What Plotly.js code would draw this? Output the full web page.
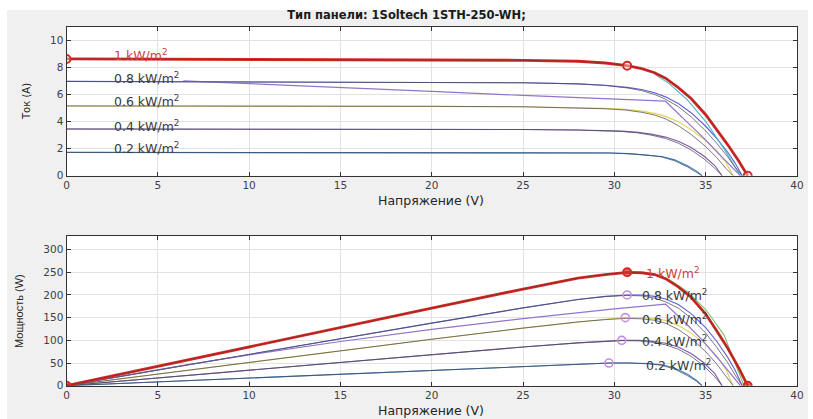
<!DOCTYPE html>
<html>
<head>
<meta charset="utf-8">
<script src="https://cdn.plot.ly/plotly-3.0.1.min.js"></script>
<style>
  html, body { margin: 0; padding: 0; background: #ffffff; }
  #chart { width: 813px; height: 419px; }
</style>
</head>
<body>
<div id="chart"></div>
<script>
// I-V and P-V characteristics of the 1Soltech 1STH-250-WH panel
// at five irradiance levels (calculated = coloured, measured = dark).

const irrLabels = ['1 kW/m<sup>2</sup>', '0.8 kW/m<sup>2</sup>', '0.6 kW/m<sup>2</sup>', '0.4 kW/m<sup>2</sup>', '0.2 kW/m<sup>2</sup>'];

// 1 kW/m2
const V10 = [0, 5, 10, 15, 20, 25, 28, 29.5, 30.7, 31.5, 32.2, 32.8, 33.5, 34.2, 35.0, 35.6, 36.2, 36.8, 37.3];
const I10 = [8.62, 8.61, 8.6, 8.58, 8.56, 8.52, 8.45, 8.32, 8.12, 7.9, 7.6, 7.2, 6.5, 5.7, 4.5, 3.4, 2.3, 1.1, 0];
const P10 = [0, 43, 86, 129, 171, 213, 237, 245, 250, 249, 245, 236, 218, 195, 158, 121, 83, 40, 0];
// model branch near the knee, 1 kW/m2
const V10k = [32.2, 33.0, 34.0, 35.0, 36.0, 36.9];
const I10k = [7.5, 6.8, 5.6, 4.0, 2.0, 0];
const V10kp = [32.2, 33.0, 34.0, 35.0, 36.0, 37.1];
const P10k = [247, 234, 207, 168, 112, 0];

// 0.8 kW/m2
const V08 = [0, 5, 10, 15, 20, 25, 28, 29.5, 30.7, 31.5, 32.2, 32.8, 33.5, 34.2, 35.0, 35.6, 36.2, 36.6, 37.0];
const I08c = [6.96, 6.95, 6.94, 6.92, 6.9, 6.86, 6.78, 6.68, 6.52, 6.36, 6.12, 5.82, 5.33, 4.65, 3.65, 2.75, 1.75, 0.95, 0];
const I08m = [6.96, 6.95, 6.94, 6.92, 6.9, 6.86, 6.78, 6.66, 6.48, 6.28, 6.0, 5.65, 5.1, 4.35, 3.3, 2.4, 1.4, 0.65, 0];
const P08c = [0, 34.8, 69.4, 103.8, 138, 171.5, 190, 197, 200, 200, 197, 191, 179, 159, 128, 98, 63, 35, 0];
const P08m = [0, 34.8, 69.4, 103.8, 138, 171.5, 190, 196.5, 199, 198, 193, 185, 171, 149, 116, 85, 51, 24, 0];

// 0.8 kW/m2, partially shaded string
const VA = [6.4, 10, 15, 20, 25, 30, 32.8, 33.8, 34.8, 35.8, 36.9];
const IA = [7.0, 6.78, 6.5, 6.22, 5.93, 5.65, 5.5, 4.2, 2.9, 1.5, 0];
const VAp = [0, 6.4, 10, 15, 20, 25, 30, 32.8, 33.8, 34.8, 35.8, 36.9];
const PA = [0, 44.8, 67.8, 97.5, 124, 148, 169.5, 180, 142, 101, 54, 0];

// 0.6 kW/m2
const V06 = [0, 5, 10, 15, 20, 25, 28, 29.5, 30.6, 31.5, 32.2, 32.8, 33.5, 34.2, 35.0, 35.6, 36.1, 36.5];
const I06c = [5.15, 5.15, 5.14, 5.13, 5.12, 5.09, 5.03, 4.97, 4.9, 4.77, 4.6, 4.38, 3.98, 3.4, 2.6, 1.85, 1.0, 0];
const I06m = [5.15, 5.15, 5.14, 5.13, 5.12, 5.09, 5.02, 4.94, 4.85, 4.68, 4.48, 4.2, 3.7, 3.05, 2.15, 1.35, 0.55, 0];
const P06c = [0, 25.8, 51.4, 77, 102.4, 127, 141, 146.6, 150, 150, 148, 144, 133, 116, 91, 66, 36, 0];
const P06m = [0, 25.8, 51.4, 77, 102.4, 127, 140.6, 145.7, 148.4, 147.4, 144.3, 137.8, 124, 104.3, 75, 48, 20, 0];

// 0.4 kW/m2
const V04 = [0, 5, 10, 15, 20, 25, 28, 29.5, 30.4, 31.3, 32.0, 32.8, 33.5, 34.2, 34.9, 35.5, 35.9];
const I04c = [3.45, 3.45, 3.45, 3.44, 3.43, 3.41, 3.37, 3.34, 3.29, 3.2, 3.07, 2.85, 2.55, 2.08, 1.45, 0.75, 0];
const I04m = [3.45, 3.45, 3.45, 3.44, 3.43, 3.41, 3.37, 3.33, 3.27, 3.16, 3.0, 2.75, 2.4, 1.9, 1.25, 0.55, 0];
const P04c = [0, 17.3, 34.5, 51.6, 68.6, 85.3, 94.4, 98.5, 100, 100.2, 98.2, 93.5, 85.4, 71.1, 50.6, 26.6, 0];
const P04m = [0, 17.3, 34.5, 51.6, 68.6, 85.3, 94.4, 98.2, 99.4, 98.9, 96, 90.2, 80.4, 65, 43.6, 19.5, 0];

// 0.2 kW/m2
const V02 = [0, 5, 10, 15, 20, 25, 28, 29.7, 30.8, 31.8, 32.6, 33.3, 34.0, 34.5, 34.8];
const I02c = [1.72, 1.72, 1.72, 1.72, 1.71, 1.71, 1.70, 1.68, 1.63, 1.54, 1.42, 1.17, 0.74, 0.34, 0];
const I02m = [1.72, 1.72, 1.72, 1.72, 1.71, 1.71, 1.70, 1.68, 1.62, 1.52, 1.38, 1.1, 0.65, 0.28, 0];
const P02c = [0, 8.6, 17.2, 25.8, 34.2, 42.8, 47.6, 49.9, 50.2, 49, 46.3, 39, 25.2, 11.7, 0];
const P02m = [0, 8.6, 17.2, 25.8, 34.2, 42.8, 47.6, 49.9, 49.9, 48.3, 45, 36.6, 22.1, 9.7, 0];

// characteristic points at 1 kW/m2: Isc, MPP, Voc
const keyV = [0, 30.7, 37.3];
const keyI = [8.62, 8.12, 0];
const keyP = [0, 250, 0];
// maximum power points at lower irradiance
const mppV = [30.7, 30.6, 30.4, 29.7];
const mppP = [200, 150, 100, 50];

// label anchor positions
const labelV_I = 2.5;
const labelI = [8.9, 7.2, 5.5, 3.7, 2.05];
const labelV_P = [31.6, 31.4, 31.4, 31.4, 31.6];
const labelP = [248, 199, 148, 99, 46];

const darkCol = '#4a4c5c';
const colors = {
  c10: '#d42a25', c10k: '#49b3c9', c10kp: '#7cc46c',
  c08: '#5f62d4', cA: '#9274cc', c06: '#e6cf52', c04: '#7f5aa8', c02: '#2f7cc4'
};

function line(x, y, color, width, axis, opacity) {
  return {
    x: x, y: y, type: 'scatter', mode: 'lines',
    line: { color: color, width: width },
    opacity: opacity === undefined ? 1 : opacity,
    xaxis: axis === 2 ? 'x2' : 'x', yaxis: axis === 2 ? 'y2' : 'y',
    hoverinfo: 'skip', showlegend: false
  };
}

const traces = [
  // ---- current vs voltage ----
  line(V02, I02c, colors.c02, 1.1, 1),
  line(V04, I04c, colors.c04, 1.1, 1),
  line(V06, I06c, colors.c06, 1.1, 1),
  line(V08, I08c, colors.c08, 1.1, 1),
  line(VA, IA, colors.cA, 1.2, 1),
  line(V10k, I10k, colors.c10k, 1.1, 1),
  line(V02, I02m, darkCol, 1, 1, 0.75),
  line(V04, I04m, darkCol, 1, 1, 0.75),
  line(V06, I06m, darkCol, 1, 1, 0.75),
  line(V08, I08m, darkCol, 1, 1, 0.75),
  line(V10, I10, colors.c10, 2.8, 1),
  line(V10, I10, '#5a2a2a', 0.8, 1, 0.6),
  // ---- power vs voltage ----
  line(V02, P02c, colors.c02, 1.1, 2),
  line(V04, P04c, colors.c04, 1.1, 2),
  line(V06, P06c, colors.c06, 1.1, 2),
  line(V08, P08c, colors.c08, 1.1, 2),
  line(VAp, PA, colors.cA, 1.2, 2),
  line(V10kp, P10k, colors.c10kp, 1.1, 2),
  line(V02, P02m, darkCol, 1, 2, 0.75),
  line(V04, P04m, darkCol, 1, 2, 0.75),
  line(V06, P06m, darkCol, 1, 2, 0.75),
  line(V08, P08m, darkCol, 1, 2, 0.75),
  line(V10, P10, colors.c10, 2.8, 2),
  line(V10, P10, '#5a2a2a', 0.8, 2, 0.6),
  // ---- markers ----
  {
    x: keyV, y: keyI, type: 'scatter', mode: 'markers', xaxis: 'x', yaxis: 'y',
    marker: { size: 8, color: 'rgba(255,255,255,0.4)', line: { color: '#d42a25', width: 2 } },
    hoverinfo: 'skip', showlegend: false
  },
  {
    x: keyV, y: keyP, type: 'scatter', mode: 'markers', xaxis: 'x2', yaxis: 'y2',
    marker: { size: 8, color: 'rgba(220,50,45,0.75)', line: { color: '#d42a25', width: 2 } },
    hoverinfo: 'skip', showlegend: false
  },
  {
    x: mppV, y: mppP, type: 'scatter', mode: 'markers', xaxis: 'x2', yaxis: 'y2',
    marker: { size: 8, color: 'rgba(255,255,255,0)', line: { color: '#c58ee0', width: 1.6 } },
    hoverinfo: 'skip', showlegend: false
  }
];

const font = 'DejaVu Sans, Verdana, sans-serif';
const narrow = 'Liberation Sans Narrow, Liberation Sans, Arial, sans-serif';
const annotations = [];
irrLabels.forEach(function (t, k) {
  annotations.push({
    xref: 'x', yref: 'y', x: labelV_I, y: labelI[k], text: t, showarrow: false,
    xanchor: 'left', yanchor: 'middle',
    font: { family: font, size: 12.5, color: k === 0 ? '#d0403a' : '#3a3a3a' }
  });
  annotations.push({
    xref: 'x2', yref: 'y2', x: labelV_P[k], y: labelP[k], text: t, showarrow: false,
    xanchor: 'left', yanchor: 'middle',
    font: { family: font, size: 12.5, color: k === 0 ? '#d0403a' : '#3a3a3a' }
  });
});
// axis titles
annotations.push(
  { xref: 'paper', yref: 'paper', x: 0.53, y: 1 - 200.5 / 419, text: 'Напряжение (V)', showarrow: false,
    xanchor: 'center', yanchor: 'middle', font: { family: font, size: 12.5, color: '#262626' } },
  { xref: 'paper', yref: 'paper', x: 0.53, y: 1 - 410.5 / 419, text: 'Напряжение (V)', showarrow: false,
    xanchor: 'center', yanchor: 'middle', font: { family: font, size: 12.5, color: '#262626' } },
  { xref: 'paper', yref: 'paper', x: 27 / 813, y: 1 - 102 / 419, text: 'Ток (A)', showarrow: false, textangle: -90,
    xanchor: 'center', yanchor: 'middle', font: { family: font, size: 10, color: '#262626' } },
  { xref: 'paper', yref: 'paper', x: 19 / 813, y: 1 - 311 / 419, text: 'Мощность (W)', showarrow: false, textangle: -90,
    xanchor: 'center', yanchor: 'middle', font: { family: narrow, size: 11, color: '#262626' } }
);

function xAxis(anchor) {
  return {
    domain: [66.5 / 813, 797 / 813], anchor: anchor, range: [0, 40], dtick: 5, tick0: 0,
    ticks: 'inside', ticklen: 4, tickcolor: '#333', showline: true, linecolor: '#333', linewidth: 1,
    mirror: 'allticks', showgrid: true, gridcolor: '#e2e2e2', zeroline: false,
    tickfont: { family: font, size: 10.5, color: '#404040' }, fixedrange: true
  };
}
function yAxis(anchor, domain, range, dtick) {
  return {
    domain: domain, anchor: anchor, range: range, dtick: dtick, tick0: 0,
    ticks: 'inside', ticklen: 4, tickcolor: '#333', showline: true, linecolor: '#333', linewidth: 1,
    mirror: 'allticks', showgrid: true, gridcolor: '#e2e2e2', zeroline: false,
    tickfont: { family: font, size: 10.5, color: '#404040' }, fixedrange: true
  };
}

const layout = {
  width: 813, height: 419,
  margin: { l: 0, r: 0, t: 0, b: 0 },
  paper_bgcolor: '#f0f0f0', plot_bgcolor: '#ffffff',
  showlegend: false,
  title: {
    text: '<b>Тип панели: 1Soltech 1STH-250-WH;</b>',
    x: 0.5, xanchor: 'center', y: 1 - 15 / 419, yanchor: 'middle', yref: 'container',
    font: { family: font, size: 11.5, color: '#1a1a1a' }
  },
  xaxis: xAxis('y'),
  yaxis: yAxis('x', [1 - 175.7 / 419, 1 - 26.7 / 419], [0, 11], 2),
  xaxis2: xAxis('y2'),
  yaxis2: yAxis('x2', [1 - 385.7 / 419, 1 - 236 / 419], [0, 330], 50),
  annotations: annotations,
  shapes: [
    { type: 'rect', xref: 'paper', yref: 'paper', x0: 0, x1: 1, y0: 1 - 10 / 419, y1: 1, fillcolor: '#ffffff', line: { width: 0 }, layer: 'below' },
    { type: 'rect', xref: 'paper', yref: 'paper', x0: 0, x1: 7 / 813, y0: 0, y1: 1, fillcolor: '#ffffff', line: { width: 0 }, layer: 'below' },
    { type: 'rect', xref: 'paper', yref: 'paper', x0: 808 / 813, x1: 1, y0: 0, y1: 1, fillcolor: '#ffffff', line: { width: 0 }, layer: 'below' }
  ]
};

Plotly.newPlot('chart', traces, layout, { displayModeBar: false, staticPlot: true });
</script>
</body>
</html>
